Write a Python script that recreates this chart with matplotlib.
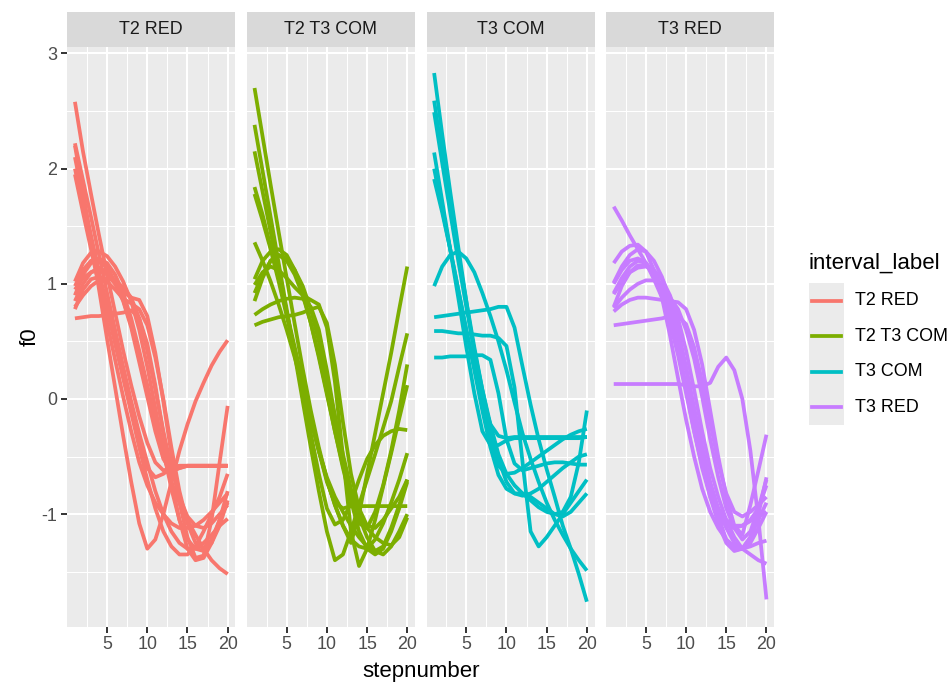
import matplotlib
matplotlib.use("Agg")
import matplotlib.pyplot as plt
from matplotlib.patches import Rectangle
from matplotlib.lines import Line2D

plt.rcParams['font.family'] = ['Liberation Sans', 'DejaVu Sans']
plt.rcParams['axes.unicode_minus'] = False

steps = list(range(1, 21))
panel_labels = ["T2 RED", "T2 T3 COM", "T3 COM", "T3 RED"]
colors = ["#F8766D", "#7CAE00", "#00BFC4", "#C77CFF"]
x_ticks = [5, 10, 15, 20]
y_ticks = [-1, 0, 1, 2, 3]

t2_red = [
    [2.58, 2.15, 1.78, 1.42, 1.08, 0.75, 0.42, 0.12, -0.15, -0.38, -0.55, -0.62, -0.60, -0.58, -0.58, -0.58, -0.58, -0.58, -0.58, -0.58],
    [2.20, 1.80, 1.38, 0.95, 0.52, 0.10, -0.32, -0.72, -1.08, -1.30, -1.22, -1.00, -0.72, -0.45, -0.22, -0.02, 0.14, 0.29, 0.41, 0.51],
    [2.10, 1.75, 1.42, 1.10, 0.80, 0.50, 0.20, -0.10, -0.38, -0.60, -0.68, -0.65, -0.60, -0.58, -0.58, -0.58, -0.58, -0.58, -0.58, -0.58],
    [2.00, 1.68, 1.38, 1.08, 0.78, 0.48, 0.18, -0.12, -0.42, -0.70, -0.95, -1.15, -1.28, -1.35, -1.35, -1.28, -1.15, -1.00, -0.85, -0.65],
    [2.22, 1.90, 1.58, 1.25, 0.92, 0.60, 0.28, -0.02, -0.30, -0.55, -0.80, -1.00, -1.15, -1.25, -1.30, -1.30, -1.25, -1.18, -1.10, -1.04],
    [1.02, 1.18, 1.27, 1.28, 1.24, 1.15, 1.02, 0.85, 0.60, 0.28, -0.08, -0.45, -0.78, -1.05, -1.22, -1.30, -1.32, -1.25, -1.10, -0.88],
    [0.95, 1.05, 1.10, 1.12, 1.08, 1.00, 0.93, 0.88, 0.86, 0.72, 0.40, -0.02, -0.48, -0.90, -1.20, -1.38, -1.36, -1.05, -0.55, -0.06],
    [0.70, 0.71, 0.72, 0.72, 0.73, 0.74, 0.75, 0.77, 0.70, 0.48, 0.12, -0.30, -0.72, -1.05, -1.30, -1.40, -1.38, -1.25, -1.05, -0.80],
    [0.85, 1.00, 1.10, 1.14, 1.10, 1.00, 0.85, 0.62, 0.32, 0.02, -0.28, -0.52, -0.63, -0.60, -0.58, -0.58, -0.58, -0.58, -0.58, -0.58],
    [0.90, 1.08, 1.18, 1.20, 1.14, 1.02, 0.86, 0.64, 0.38, 0.10, -0.20, -0.48, -0.72, -0.90, -1.05, -1.18, -1.30, -1.40, -1.47, -1.52],
    [0.78, 0.95, 1.04, 1.06, 1.02, 0.95, 0.87, 0.83, 0.78, 0.64, 0.36, 0.00, -0.42, -0.80, -1.08, -1.25, -1.30, -1.22, -1.05, -0.90],
    [0.80, 0.90, 0.98, 1.03, 1.05, 1.03, 0.97, 0.88, 0.70, 0.42, 0.08, -0.28, -0.60, -0.85, -1.02, -1.10, -1.12, -1.08, -1.00, -0.92],
    [0.98, 1.12, 1.20, 1.22, 1.18, 1.08, 0.92, 0.70, 0.42, 0.12, -0.20, -0.50, -0.62, -0.60, -0.58, -0.58, -0.58, -0.58, -0.58, -0.58],
    [1.95, 1.62, 1.30, 0.98, 0.66, 0.34, 0.02, -0.28, -0.55, -0.75, -0.90, -1.00, -1.08, -1.12, -1.12, -1.10, -1.05, -0.98, -0.90, -0.82],
]

t2_t3_com = [
    [2.70, 2.28, 1.86, 1.45, 1.05, 0.65, 0.26, -0.10, -0.42, -0.70, -0.92, -1.10, -1.25, -1.00, -0.65, -0.30, 0.05, 0.40, 0.78, 1.15],
    [2.38, 1.98, 1.58, 1.18, 0.78, 0.38, -0.02, -0.42, -0.80, -1.15, -1.40, -1.35, -1.15, -0.92, -0.70, -0.48, -0.25, -0.02, 0.28, 0.57],
    [2.15, 1.80, 1.45, 1.10, 0.75, 0.40, 0.05, -0.30, -0.65, -0.95, -1.09, -1.05, -0.90, -0.70, -0.52, -0.40, -0.32, -0.28, -0.26, -0.27],
    [1.84, 1.60, 1.32, 1.05, 0.75, 0.45, 0.15, -0.15, -0.45, -0.72, -0.90, -0.95, -0.93, -0.93, -0.93, -0.93, -0.93, -0.93, -0.93, -0.93],
    [1.78, 1.55, 1.30, 1.02, 0.72, 0.42, 0.12, -0.18, -0.45, -0.68, -0.85, -0.98, -1.10, -1.20, -1.28, -1.32, -1.28, -1.12, -0.92, -0.70],
    [1.36, 1.20, 1.02, 0.82, 0.60, 0.36, 0.10, -0.18, -0.45, -0.70, -0.92, -1.10, -1.22, -1.28, -1.30, -1.22, -1.08, -0.90, -0.70, -0.47],
    [1.04, 1.20, 1.28, 1.30, 1.25, 1.12, 0.92, 0.66, 0.36, 0.04, -0.28, -0.58, -0.82, -1.00, -1.12, -1.20, -1.25, -1.27, -1.20, -1.03],
    [0.99, 1.10, 1.15, 1.12, 1.05, 0.97, 0.90, 0.86, 0.82, 0.62, 0.15, -0.50, -1.15, -1.45, -1.30, -1.05, -0.76, -0.47, -0.17, 0.12],
    [0.85, 1.05, 1.20, 1.25, 1.20, 1.08, 0.90, 0.66, 0.38, 0.06, -0.28, -0.60, -0.88, -1.08, -1.12, -0.98, -0.75, -0.45, -0.10, 0.30],
    [0.73, 0.78, 0.82, 0.85, 0.87, 0.88, 0.87, 0.80, 0.60, 0.25, -0.15, -0.55, -0.88, -1.15, -1.30, -1.35, -1.30, -1.15, -0.95, -0.72],
    [0.64, 0.67, 0.69, 0.71, 0.72, 0.73, 0.75, 0.78, 0.80, 0.66, 0.30, -0.20, -0.65, -0.95, -1.10, -1.12, -1.05, -0.95, -0.85, -0.70],
    [0.92, 1.08, 1.20, 1.25, 1.22, 1.12, 0.98, 0.78, 0.50, 0.18, -0.15, -0.48, -0.78, -1.02, -1.20, -1.32, -1.35, -1.28, -1.15, -1.00],
]

t3_com = [
    [2.14, 1.72, 1.30, 0.88, 0.45, 0.05, -0.28, -0.40, -0.40, -0.36, -0.34, -0.34, -0.34, -0.34, -0.34, -0.34, -0.34, -0.34, -0.34, -0.33],
    [2.83, 2.30, 1.80, 1.32, 0.85, 0.40, 0.00, -0.35, -0.58, -0.65, -0.64, -0.60, -0.55, -0.50, -0.45, -0.40, -0.35, -0.31, -0.28, -0.26],
    [2.59, 2.12, 1.68, 1.25, 0.85, 0.45, 0.08, -0.25, -0.52, -0.72, -0.82, -0.84, -0.82, -0.78, -0.72, -0.66, -0.60, -0.55, -0.50, -0.48],
    [2.49, 2.05, 1.62, 1.20, 0.80, 0.42, 0.08, -0.22, -0.48, -0.65, -0.75, -0.82, -0.88, -0.94, -0.98, -1.00, -0.98, -0.85, -0.55, -0.10],
    [1.91, 1.62, 1.30, 0.95, 0.60, 0.25, -0.10, -0.42, -0.66, -0.78, -0.82, -0.82, -0.85, -0.90, -0.95, -1.00, -1.02, -0.98, -0.90, -0.82],
    [0.98, 1.15, 1.25, 1.28, 1.22, 1.10, 0.92, 0.72, 0.50, 0.25, -0.03, -0.30, -0.52, -0.72, -0.90, -1.05, -1.18, -1.30, -1.40, -1.49],
    [0.71, 0.72, 0.73, 0.74, 0.75, 0.76, 0.77, 0.78, 0.80, 0.80, 0.62, 0.28, -0.05, -0.35, -0.61, -0.85, -1.10, -1.30, -1.52, -1.76],
    [0.59, 0.59, 0.58, 0.57, 0.57, 0.56, 0.55, 0.55, 0.53, 0.46, 0.10, -0.55, -1.15, -1.28, -1.20, -1.10, -1.00, -0.90, -0.80, -0.70],
    [0.36, 0.36, 0.37, 0.37, 0.37, 0.38, 0.38, 0.34, 0.05, -0.35, -0.56, -0.62, -0.60, -0.58, -0.56, -0.55, -0.55, -0.56, -0.57, -0.57],
    [2.00, 1.65, 1.30, 0.95, 0.60, 0.28, 0.00, -0.22, -0.32, -0.34, -0.33, -0.33, -0.33, -0.33, -0.33, -0.33, -0.33, -0.33, -0.33, -0.33],
]

t3_red = [
    [1.67, 1.55, 1.42, 1.30, 1.18, 1.04, 0.88, 0.66, 0.38, 0.05, -0.28, -0.58, -0.80, -0.95, -1.05, -1.10, -1.10, -1.05, -0.95, -0.75],
    [1.18, 1.28, 1.33, 1.34, 1.28, 1.12, 0.88, 0.55, 0.18, -0.18, -0.50, -0.78, -0.98, -1.12, -1.22, -1.28, -1.30, -1.28, -1.25, -1.23],
    [1.01, 1.15, 1.25, 1.30, 1.28, 1.20, 1.06, 0.86, 0.60, 0.28, -0.08, -0.42, -0.72, -0.95, -1.12, -1.25, -1.30, -1.25, -1.12, -0.98],
    [0.91, 1.02, 1.10, 1.14, 1.15, 1.12, 1.04, 0.90, 0.70, 0.42, 0.08, -0.28, -0.60, -0.85, -1.05, -1.20, -1.30, -1.35, -1.40, -1.43],
    [0.79, 0.88, 0.95, 1.00, 1.03, 1.03, 0.98, 0.88, 0.78, 0.60, 0.35, 0.02, -0.35, -0.68, -0.95, -1.12, -1.22, -1.15, -0.95, -0.70],
    [0.76, 0.82, 0.86, 0.88, 0.88, 0.87, 0.86, 0.85, 0.84, 0.78, 0.60, 0.30, -0.10, -0.50, -0.85, -1.10, -1.18, -0.92, -0.62, -0.31],
    [0.64, 0.65, 0.66, 0.67, 0.68, 0.69, 0.70, 0.72, 0.72, 0.65, 0.45, 0.15, -0.20, -0.55, -0.82, -0.98, -1.02, -0.98, -0.92, -0.85],
    [0.13, 0.13, 0.13, 0.13, 0.13, 0.13, 0.13, 0.13, 0.13, 0.12, 0.11, 0.11, 0.14, 0.28, 0.36, 0.25, 0.00, -0.45, -1.05, -1.74],
    [0.92, 1.05, 1.15, 1.20, 1.18, 1.10, 0.95, 0.72, 0.42, 0.08, -0.28, -0.60, -0.85, -1.02, -1.10, -1.12, -1.10, -1.06, -1.02, -0.98],
    [1.00, 1.12, 1.20, 1.22, 1.18, 1.08, 0.92, 0.70, 0.44, 0.12, -0.22, -0.55, -0.85, -1.08, -1.25, -1.32, -1.30, -1.20, -1.05, -0.90],
    [0.80, 0.98, 1.10, 1.16, 1.16, 1.10, 0.98, 0.80, 0.55, 0.25, -0.08, -0.42, -0.75, -1.02, -1.22, -1.31, -1.30, -1.20, -1.00, -0.68],
]

series = [t2_red, t2_t3_com, t3_com, t3_red]

W, H = 951, 683
fig = plt.figure(figsize=(W / 100, H / 100), dpi=100)

panel_top, panel_bottom = 47.0, 626.7
strip_top = 12.0
panel_w = 168.0
panel_step = 179.6
panel_left0 = 67.3
line_w = 2.7

for i, (label, col, curves) in enumerate(zip(panel_labels, colors, series)):
    left = panel_left0 + i * panel_step
    ax = fig.add_axes([left / W, (H - panel_bottom) / H, panel_w / W, (panel_bottom - panel_top) / H])
    ax.set_facecolor('#EBEBEB')
    ax.set_xlim(0.05, 20.95)
    ax.set_ylim(-1.977, 3.056)
    ax.set_xticks(x_ticks)
    ax.set_xticks([2.5, 7.5, 12.5, 17.5], minor=True)
    ax.set_yticks(y_ticks)
    ax.set_yticks([-1.5, -0.5, 0.5, 1.5, 2.5], minor=True)
    ax.grid(which='major', color='white', linewidth=1.45)
    ax.grid(which='minor', color='white', linewidth=0.75)
    ax.set_axisbelow(True)
    for s in ax.spines.values():
        s.set_visible(False)
    ax.tick_params(which='minor', length=0)
    ax.tick_params(which='major', length=4.0, width=1.4, color='#333333',
                   labelcolor='#4D4D4D', labelsize=12.9)
    ax.tick_params(axis='x', pad=2.5)
    ax.tick_params(axis='y', pad=3.4)
    if i > 0:
        ax.tick_params(axis='y', length=0, labelleft=False)
    for c in curves:
        ax.plot(steps, c, color=col, linewidth=line_w, solid_joinstyle='round',
                solid_capstyle='butt')

    sax = fig.add_axes([left / W, (H - panel_top) / H, panel_w / W, (panel_top - strip_top) / H])
    sax.set_facecolor('#D9D9D9')
    sax.set_xticks([]); sax.set_yticks([])
    for s in sax.spines.values():
        s.set_visible(False)
    sax.text(0.5, 0.5, label, ha='center', va='center', fontsize=12.9,
             color='#1A1A1A', transform=sax.transAxes)

# axis titles
fig.text(420.7 / W, 1 - 672 / H, 'stepnumber', ha='center', va='center', fontsize=16, color='black')
fig.text(30 / W, 1 - 337 / H, 'f0', ha='center', va='center', rotation=90, fontsize=16, color='black')

# legend
fig.text(809 / W, 1 - 262.7 / H, 'interval_label', ha='left', va='center', fontsize=16, color='black')
fig.patches.append(Rectangle((809 / W, 1 - 425 / H), 35 / W, 142 / H, transform=fig.transFigure,
                             facecolor='#EBEBEB', edgecolor='none'))
for k, (label, col) in enumerate(zip(panel_labels, colors)):
    yc = 300.75 + k * 35.5
    fig.lines.append(Line2D([812 / W, 841 / W], [1 - yc / H, 1 - yc / H], transform=fig.transFigure,
                            color=col, linewidth=line_w))
    fig.text(855 / W, 1 - yc / H, label, ha='left', va='center', fontsize=12.9, color='black')

fig.savefig('out.png', dpi=100, facecolor='white')
